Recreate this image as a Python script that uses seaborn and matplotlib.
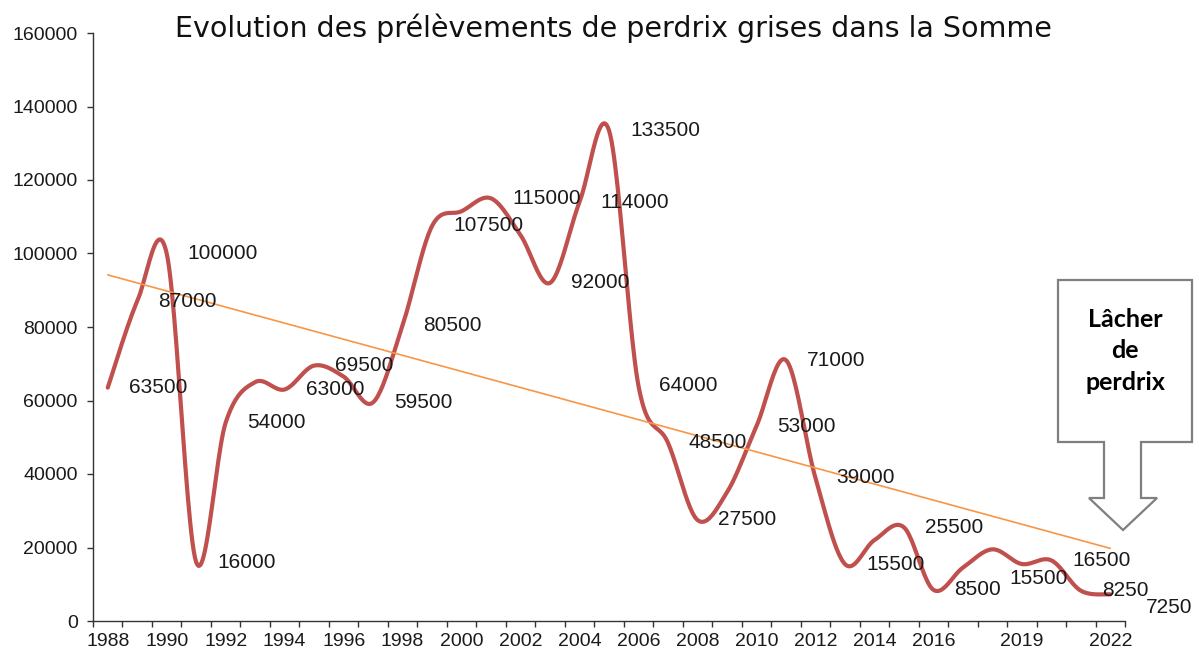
import numpy as np
import matplotlib
matplotlib.use("Agg")
import matplotlib.pyplot as plt
from matplotlib.patches import Polygon
import seaborn as sns

# data
years = list(range(1988, 2023))
prelevements = [63500, 87000, 100000, 16000, 54000, 65000, 63000, 69500, 66500, 59500,
                80500, 107500, 111500, 115000, 105000, 92000, 114000, 133500, 64000, 48500,
                27500, 35000, 53000, 71000, 39000, 15500, 22000, 25500, 8500, 14500,
                19500, 15500, 16500, 8250, 7250]
# years that carry no value label on the original
unlabelled = [1993, 1996, 2000, 2002, 2009, 2014, 2017, 2018]
tick_years = [1988, 1990, 1992, 1994, 1996, 1998, 2000, 2002, 2004, 2006, 2008,
              2010, 2012, 2014, 2016, 2019, 2022]
title = "Evolution des prélèvements de perdrix grises dans la Somme"
callout = "Lâcher\nde\nperdrix"

# labels that were moved by hand (offset in pixels)
label_shift = {2019: (-12, -14), 2022: (36, -13)}

W, H = 1199, 654


def smooth(x, y, n=24):
    # Catmull-Rom curve, close to Excel's "smoothed line"
    x = np.asarray(x, float)
    y = np.asarray(y, float)
    px = np.concatenate([[x[0]], x, [x[-1]]])
    py = np.concatenate([[y[0]], y, [y[-1]]])
    t = np.linspace(0, 1, n, endpoint=False)[:, None]
    out = []
    for i in range(1, len(x)):
        p0 = np.array([px[i - 1], py[i - 1]])
        p1 = np.array([px[i], py[i]])
        p2 = np.array([px[i + 1], py[i + 1]])
        p3 = np.array([px[i + 2], py[i + 2]])
        seg = 0.5 * (2 * p1 + (-p0 + p2) * t + (2 * p0 - 5 * p1 + 4 * p2 - p3) * t ** 2
                     + (-p0 + 3 * p1 - 3 * p2 + p3) * t ** 3)
        out.append(seg)
    out.append(np.array([[x[-1], y[-1]]]))
    out = np.vstack(out)
    return out[:, 0], out[:, 1]


sns.set_theme(style="white")
plt.rcParams["font.family"] = ["Liberation Sans", "DejaVu Sans"]

fig = plt.figure(figsize=(W / 100, H / 100), dpi=100)
ax = fig.add_axes([93 / W, 1 - 621 / H, (1125 - 93) / W, (621 - 33) / H])

idx = np.arange(len(years))
sx, sy = smooth(idx, prelevements)
sns.lineplot(x=sx, y=sy, ax=ax, color="#C0504D", lw=3.0, sort=False, estimator=None, zorder=2)

# linear trend like Excel's trendline
coef = np.polyfit(idx, prelevements, 1)
tx = np.array([idx[0], idx[-1]])
sns.lineplot(x=tx, y=np.polyval(coef, tx), ax=ax, color="#F79646", lw=1.2, zorder=3)

for i, (yr, v) in enumerate(zip(years, prelevements)):
    if yr in unlabelled:
        continue
    dx, dy = label_shift.get(yr, (21, 0))
    ax.annotate(str(v), (i, v), xytext=(dx * 0.72, dy * 0.72), textcoords="offset points",
                ha="left", va="center", fontsize=15, color="#1a1a1a", zorder=4)

ax.set_xlim(-0.5, len(years) - 0.5)
ax.set_ylim(0, 160000)
ax.set_yticks(range(0, 160001, 20000))
ax.set_yticklabels([str(v) for v in range(0, 160001, 20000)])
ax.set_xticks([years.index(y) for y in tick_years])
ax.set_xticklabels([str(y) for y in tick_years])
ax.set_xticks(np.arange(-0.5, len(years), 1), minor=True)
ax.tick_params(axis="x", which="major", length=0, pad=9, labelsize=14, colors="#1a1a1a")
ax.tick_params(axis="x", which="minor", length=4, width=1, color="#333333", direction="out")
ax.tick_params(axis="y", length=4, width=1, color="#333333", direction="out", pad=7,
               labelsize=14, labelcolor="#1a1a1a")
ax.tick_params(bottom=True, left=True, which="both")
for s in ["top", "right"]:
    ax.spines[s].set_visible(False)
for s in ["left", "bottom"]:
    ax.spines[s].set_color("#333333")
    ax.spines[s].set_linewidth(1)
ax.set_xlabel("")
ax.set_ylabel("")

fig.text(613 / W, 1 - 28 / H, title, ha="center", va="center", fontsize=20.5,
         family=["DejaVu Sans"], color="#111111")

# callout arrow box
pts = [(1058, 280), (1192, 280), (1192, 442), (1141, 442), (1141, 498), (1157, 498),
       (1123, 530), (1089, 498), (1104, 498), (1104, 442), (1058, 442)]
poly = Polygon([(x / W, 1 - y / H) for x, y in pts], closed=True, transform=fig.transFigure,
               facecolor="white", edgecolor="#7f7f7f", lw=1.6, zorder=5)
fig.patches.append(poly)
fig.text(1125 / W, 1 - 351 / H, callout, ha="center", va="center", fontsize=18,
         fontweight="bold", family=["Lato", "DejaVu Sans"], linespacing=1.45, color="black",
         zorder=6)

fig.savefig("out.png", dpi=100)
